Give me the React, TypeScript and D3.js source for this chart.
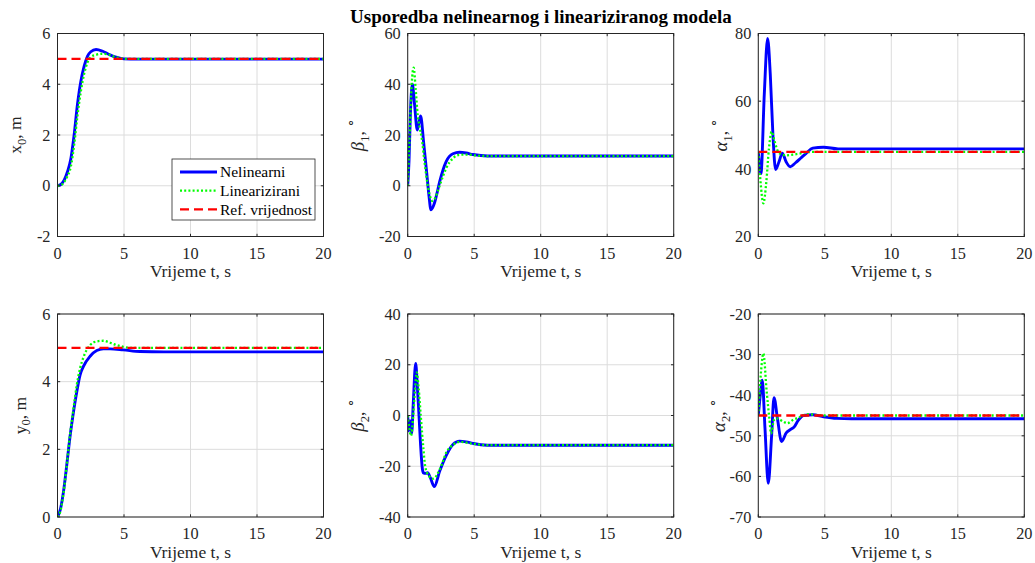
import React from "react";
import * as d3 from "d3";

// ---------- data ----------
const timeTicks = [0, 5, 10, 15, 20];
const timeDomain = [0, 20];

const titleText = "Usporedba nelinearnog i lineariziranog modela";
const xLabelText = "Vrijeme t, s";
const legendLabels = ["Nelinearni", "Linearizirani", "Ref. vrijednost"];

// x0
const x0Ticks = [-2, 0, 2, 4, 6];
const x0NlT = [0, 0.25, 0.5, 0.75, 1.0, 1.25, 1.5, 1.75, 2.0, 2.25, 2.5, 2.9, 3.4, 3.9, 4.4, 5, 6, 20];
const x0NlV = [0, 0.05, 0.22, 0.55, 1.05, 2.0, 3.2, 4.1, 4.7, 5.1, 5.28, 5.37, 5.3, 5.17, 5.07, 5.0, 4.99, 4.99];
const x0LinT = [0, 0.25, 0.5, 0.75, 1.0, 1.25, 1.5, 1.75, 2.0, 2.25, 2.5, 2.9, 3.3, 3.7, 4.2, 4.7, 5.2, 6, 20];
const x0LinV = [0, 0.02, 0.15, 0.38, 0.75, 1.6, 2.75, 3.7, 4.4, 4.85, 5.07, 5.16, 5.2, 5.19, 5.1, 5.03, 5.0, 5.0, 5.0];
const x0Ref = 5;

// beta1
const b1Ticks = [-20, 0, 20, 40, 60];
const b1NlT = [0, 0.1, 0.2, 0.35, 0.5, 0.72, 0.85, 0.97, 1.2, 1.45, 1.6, 1.75, 2.0, 2.2, 2.4, 2.9, 3.4, 3.9, 4.4, 4.9, 5.5, 6.5, 20];
const b1NlV = [0, 10, 28, 40, 33, 22, 25, 27.5, 17, 4, -4, -9.5, -7, -3, 1.5, 9.6, 12.6, 13.2, 12.9, 12.3, 11.9, 11.7, 11.7];
const b1LinT = [0, 0.15, 0.3, 0.45, 0.6, 0.75, 0.9, 1.05, 1.25, 1.45, 1.65, 1.85, 2.05, 2.3, 2.6, 2.9, 3.4, 3.9, 4.5, 5, 6, 20];
const b1LinV = [0, 20, 40, 46.5, 38, 28, 23, 19, 10, 2, -3.5, -6, -5, -1.5, 3, 7, 10.8, 12.2, 12.3, 12, 11.7, 11.7];

// alpha1
const a1Ticks = [20, 40, 60, 80];
const a1NlT = [0, 0.2, 0.45, 0.7, 0.9, 1.1, 1.3, 1.55, 1.8, 2.1, 2.4, 2.8, 3.2, 3.6, 4.1, 4.9, 6, 20];
const a1NlV = [45, 38.6, 62, 78.5, 68, 50, 39.8, 42, 44.6, 42, 40.6, 41.8, 43.2, 44.6, 46.1, 46.4, 45.9, 45.9];
const a1LinT = [0, 0.15, 0.38, 0.6, 0.8, 1.0, 1.2, 1.5, 1.8, 2.1, 2.6, 3.1, 3.6, 4.2, 20];
const a1LinV = [45, 37, 29.8, 36, 46, 51, 48.5, 45, 44.2, 44, 44.2, 44.5, 44.9, 45, 45];
const a1Ref = 45;

// y0
const y0Ticks = [0, 2, 4, 6];
const y0NlT = [0, 0.2, 0.45, 0.7, 0.95, 1.2, 1.45, 1.7, 1.95, 2.45, 2.95, 3.45, 3.95, 4.95, 6.2, 8, 20];
const y0NlV = [0, 0.2, 0.75, 1.55, 2.4, 3.1, 3.7, 4.2, 4.45, 4.75, 4.92, 4.97, 4.97, 4.94, 4.89, 4.88, 4.88];
const y0LinT = [0, 0.2, 0.45, 0.7, 0.95, 1.2, 1.45, 1.7, 1.95, 2.45, 2.95, 3.45, 3.95, 4.45, 4.95, 5.5, 6.5, 20];
const y0LinV = [0, 0.15, 0.7, 1.55, 2.45, 3.2, 3.9, 4.4, 4.72, 5.08, 5.19, 5.21, 5.15, 5.08, 5.03, 5.0, 5.0, 5.0];
const y0Ref = 5;

// beta2
const b2Ticks = [-40, -20, 0, 20, 40];
const b2NlT = [0, 0.08, 0.18, 0.3, 0.42, 0.6, 0.72, 0.85, 0.97, 1.1, 1.18, 1.35, 1.5, 1.7, 2.0, 2.4, 2.9, 3.4, 3.9, 4.4, 4.9, 5.5, 6.5, 20];
const b2NlV = [0, -6, -2, -7, 5, 20.5, 12, 0, -11.7, -20.9, -22.6, -22.8, -22.5, -24.5, -28, -22, -15.7, -11.4, -10.1, -10.4, -11, -11.5, -11.7, -11.7];
const b2LinT = [0, 0.12, 0.25, 0.4, 0.55, 0.68, 0.82, 0.98, 1.18, 1.3, 1.55, 1.93, 2.43, 2.93, 3.43, 3.93, 4.43, 5, 6, 20];
const b2LinV = [0, -5, -8, -1, 10, 17, 11, 0, -13, -19.5, -23.5, -24.9, -21, -14.3, -11.5, -10.4, -10.7, -11.2, -11.7, -11.7];

// alpha2
const a2Ticks = [-70, -60, -50, -40, -30, -20];
const a2NlT = [0, 0.15, 0.3, 0.5, 0.75, 1.0, 1.18, 1.45, 1.75, 2.1, 2.4, 2.7, 3.0, 3.4, 4.1, 4.9, 5.9, 7, 20];
const a2NlV = [-45, -40, -36.3, -48, -61.7, -50, -40.6, -46, -51.4, -49.3, -48.5, -47.8, -46.2, -45.0, -44.8, -45.3, -45.7, -45.8, -45.8];
const a2LinT = [0, 0.12, 0.25, 0.38, 0.63, 0.83, 0.96, 1.18, 1.38, 1.88, 2.18, 2.6, 3.1, 3.7, 4.5, 5, 20];
const a2LinV = [-45, -38, -32.5, -29.7, -39.1, -45.7, -49.4, -46.1, -45.7, -46.5, -46.9, -46.1, -45.4, -44.7, -44.9, -45, -45];
const a2Ref = -45;

// ---------- layout ----------
const W = 1035;
const H = 563;
const colLeft = [57.5, 407.7, 758.3];
const rowTop = [33.5, 314];
const PW = 266;
const PH = 203;
const FONT = "'Liberation Serif', 'Times New Roman', serif";
const AX = "#262626";
const TICK_FS = 16.3;
const LABEL_FS = 17.5;

type Series = { t: number[]; v: number[] };
type Label = { main: string; italic: boolean; sub: string; suffix: string; sup?: string; off: number };
type Panel = {
  col: number; row: number; yDomain: [number, number]; yTicks: number[];
  nl: Series; lin: Series; ref?: number; label: Label; legend?: boolean;
};

const panels: Panel[] = [
  { col: 0, row: 0, yDomain: [-2, 6], yTicks: x0Ticks, nl: { t: x0NlT, v: x0NlV }, lin: { t: x0LinT, v: x0LinV }, ref: x0Ref,
    label: { main: "x", italic: false, sub: "0", suffix: ", m", off: -36.5 }, legend: true },
  { col: 1, row: 0, yDomain: [-20, 60], yTicks: b1Ticks, nl: { t: b1NlT, v: b1NlV }, lin: { t: b1LinT, v: b1LinV },
    label: { main: "β", italic: true, sub: "1", suffix: ", ", sup: "∘", off: -44 } },
  { col: 2, row: 0, yDomain: [20, 80], yTicks: a1Ticks, nl: { t: a1NlT, v: a1NlV }, lin: { t: a1LinT, v: a1LinV }, ref: a1Ref,
    label: { main: "α", italic: true, sub: "1", suffix: ", ", sup: "∘", off: -31.5 } },
  { col: 0, row: 1, yDomain: [0, 6], yTicks: y0Ticks, nl: { t: y0NlT, v: y0NlV }, lin: { t: y0LinT, v: y0LinV }, ref: y0Ref,
    label: { main: "y", italic: false, sub: "0", suffix: ", m", off: -32 } },
  { col: 1, row: 1, yDomain: [-40, 40], yTicks: b2Ticks, nl: { t: b2NlT, v: b2NlV }, lin: { t: b2LinT, v: b2LinV },
    label: { main: "β", italic: true, sub: "2", suffix: ", ", sup: "∘", off: -44 } },
  { col: 2, row: 1, yDomain: [-70, -20], yTicks: a2Ticks, nl: { t: a2NlT, v: a2NlV }, lin: { t: a2LinT, v: a2LinV }, ref: a2Ref,
    label: { main: "α", italic: true, sub: "2", suffix: ", ", sup: "∘", off: -33 } },
];

const BLUE = "#0000ff";
const GREEN = "#00ff00";
const RED = "#ff0000";
const greenDash = "2 2.2";
const redDash = "9 5";

function YLabel({ x, y, lab }: { x: number; y: number; lab: Label }) {
  const fs = LABEL_FS;
  const mainFs = lab.italic ? fs * 1.08 : fs;
  return (
    <text transform={`translate(${x},${y}) rotate(-90)`} textAnchor="middle" fontFamily={FONT} fontSize={fs} fill={AX}>
      <tspan fontStyle={lab.italic ? "italic" : "normal"} fontSize={mainFs}>{lab.main}</tspan>
      <tspan fontSize={fs * 0.72} dy={fs * 0.28}>{lab.sub}</tspan>
      <tspan dy={-fs * 0.28}>{lab.suffix}</tspan>
      {lab.sup ? <tspan fontSize={fs * 0.72} dy={-fs * 0.55}>{lab.sup}</tspan> : null}
    </text>
  );
}

function PanelView({ p, idx }: { p: Panel; idx: number }) {
  const left = colLeft[p.col];
  const top = rowTop[p.row];
  const x = d3.scaleLinear().domain(timeDomain).range([left, left + PW]);
  const y = d3.scaleLinear().domain(p.yDomain).range([top + PH, top]);
  const line = d3
    .line<[number, number]>()
    .x((d) => x(d[0]))
    .y((d) => y(d[1]))
    .curve(d3.curveMonotoneX);
  const pts = (s: Series) => s.t.map((t, i) => [t, s.v[i]] as [number, number]);
  const tl = 2.7;
  const clipId = `clip${idx}`;
  return (
    <g>
      <defs>
        <clipPath id={clipId}>
          <rect x={left} y={top} width={PW} height={PH} />
        </clipPath>
      </defs>
      <rect x={left} y={top} width={PW} height={PH} fill="#fff" />
      {timeTicks.map((t) => (
        <line key={"gx" + t} x1={x(t)} x2={x(t)} y1={top} y2={top + PH} stroke="#dcdcdc" strokeWidth={1} />
      ))}
      {p.yTicks.map((v) => (
        <line key={"gy" + v} x1={left} x2={left + PW} y1={y(v)} y2={y(v)} stroke="#dcdcdc" strokeWidth={1} />
      ))}
      <g clipPath={`url(#${clipId})`}>
        <path d={line(pts(p.nl)) || ""} fill="none" stroke={BLUE} strokeWidth={2.9} strokeLinejoin="round" />
        <path d={line(pts(p.lin)) || ""} fill="none" stroke={GREEN} strokeWidth={2.3} strokeDasharray={greenDash} />
        {p.ref !== undefined ? (
          <line x1={x(timeDomain[0])} x2={x(timeDomain[1])} y1={y(p.ref)} y2={y(p.ref)} stroke={RED} strokeWidth={2.3} strokeDasharray={redDash} />
        ) : null}
      </g>
      <rect x={left} y={top} width={PW} height={PH} fill="none" stroke={AX} strokeWidth={1} />
      {timeTicks.map((t) => (
        <g key={"tx" + t}>
          <line x1={x(t)} x2={x(t)} y1={top + PH} y2={top + PH - tl} stroke={AX} />
          <line x1={x(t)} x2={x(t)} y1={top} y2={top + tl} stroke={AX} />
          <text x={x(t)} y={top + PH + 22} textAnchor="middle" fontFamily={FONT} fontSize={TICK_FS} fill={AX}>
            {t}
          </text>
        </g>
      ))}
      {p.yTicks.map((v) => (
        <g key={"ty" + v}>
          <line x1={left} x2={left + tl} y1={y(v)} y2={y(v)} stroke={AX} />
          <line x1={left + PW} x2={left + PW - tl} y1={y(v)} y2={y(v)} stroke={AX} />
          <text x={left - 7} y={y(v)} dy="0.35em" textAnchor="end" fontFamily={FONT} fontSize={TICK_FS} fill={AX}>
            {v}
          </text>
        </g>
      ))}
      <text x={left + PW / 2} y={top + PH + 40.5} textAnchor="middle" fontFamily={FONT} fontSize={LABEL_FS} fill={AX}>
        {xLabelText}
      </text>
      <YLabel x={left + p.label.off} y={top + PH / 2} lab={p.label} />
      {p.legend ? <Legend left={172} top={159} /> : null}
    </g>
  );
}

function Legend({ left, top }: { left: number; top: number }) {
  const rows = [
    { color: BLUE, dash: undefined as string | undefined, w: 2.9 },
    { color: GREEN, dash: greenDash, w: 2.3 },
    { color: RED, dash: redDash, w: 2.3 },
  ];
  return (
    <g>
      <rect x={left} y={top} width={143} height={61} fill="#fff" stroke={AX} strokeWidth={0.8} />
      {rows.map((r, i) => {
        const cy = top + 13 + i * 18.7;
        return (
          <g key={i}>
            <line x1={left + 8} x2={left + 45} y1={cy} y2={cy} stroke={r.color} strokeWidth={r.w} strokeDasharray={r.dash} />
            <text x={left + 48} y={cy} dy="0.35em" fontFamily={FONT} fontSize={15.5} fill="#000">
              {legendLabels[i]}
            </text>
          </g>
        );
      })}
    </g>
  );
}

export default function App() {
  return (
    <svg width={W} height={H} style={{ position: "absolute", left: 0, top: 0, background: "#fff" }}>
      <rect x={0} y={0} width={W} height={H} fill="#fff" />
      {panels.map((p, i) => (
        <PanelView key={i} p={p} idx={i} />
      ))}
      <text x={(colLeft[0] + colLeft[2] + PW) / 2} y={23} textAnchor="middle" fontFamily={FONT} fontWeight="bold" fontSize={19} fill="#000">
        {titleText}
      </text>
    </svg>
  );
}
